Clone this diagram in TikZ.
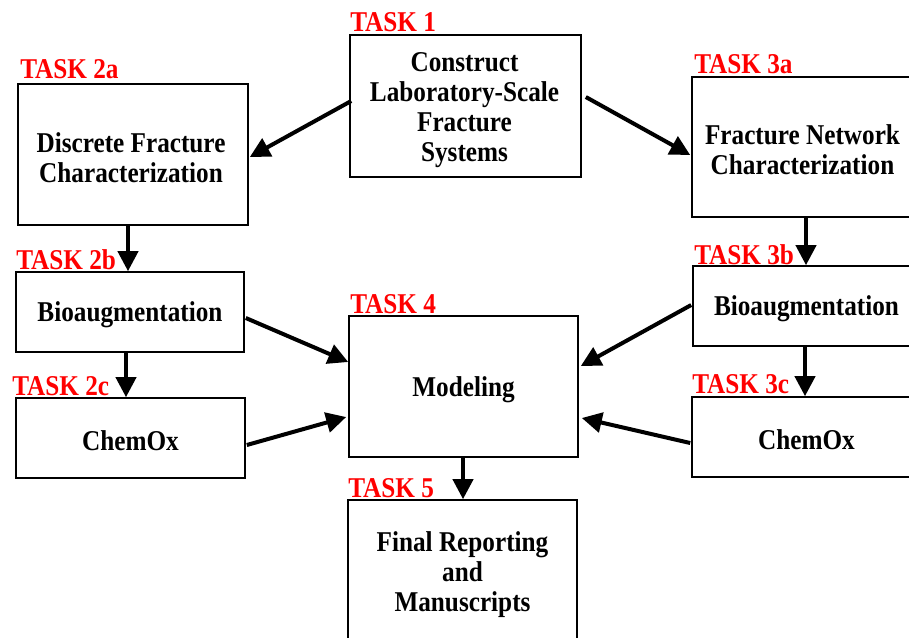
\documentclass[tikz,border=0pt]{standalone}
\usepackage{fontspec}
\setmainfont{Liberation Serif}[FakeStretch=0.88]
\usetikzlibrary{arrows.meta,calc}
\begin{document}
\begin{tikzpicture}[x=0.75pt,y=-0.75pt,
  box/.style={draw,line width=1.2pt,inner sep=0pt},
  boxtext/.style={inner sep=0pt,align=center,font=\fontsize{21.5pt}{22.5pt}\selectfont\bfseries},
  tasklabel/.style={anchor=base west,inner sep=0pt,text=red,font=\fontsize{21.5pt}{22pt}\selectfont\bfseries},
  conn/.style={line width=3pt,-{Triangle[length=15pt,width=15pt]},shorten >=0pt}]
\useasboundingbox (0,0) rectangle (909,637);
\clip (0,0) rectangle (909,637);
% boxes
\node[box,minimum width=173.25pt,minimum height=106.5pt] (t1) at (465.5,106) {};
\node[box,minimum width=172.5pt,minimum height=105.75pt] (t2a) at (133,154.5) {};
\node[box,minimum width=171pt,minimum height=60pt] (t2b) at (130,312) {};
\node[box,minimum width=171.75pt,minimum height=60pt] (t2c) at (130.5,438) {};
\node[box,minimum width=171.75pt,minimum height=105.75pt] (t4) at (463.5,386.5) {};
\node[box,minimum width=171.75pt,minimum height=105.75pt] (t5) at (462.5,570.5) {};
\node[box,minimum width=171.75pt,minimum height=105pt] (t3a) at (806.5,147) {};
\node[box,minimum width=171.75pt,minimum height=60pt] (t3b) at (807.5,306) {};
\node[box,minimum width=171.75pt,minimum height=60pt] (t3c) at (806.5,437) {};
% box texts
\node[boxtext] (x1) at ($(t1)+(-1,4)$) {Construct\\Laboratory-Scale\\Fracture\\Systems};
\node[boxtext] (x2a) at ($(t2a)+(-2,3)$) {Discrete Fracture\\Characterization};
\node[boxtext] (x2b) at ($(t2b)+(0,3)$) {Bioaugmentation};
\node[boxtext] (x2c) at ($(t2c)+(0,3)$) {ChemOx};
\node[boxtext] (x4) at ($(t4)+(0,3)$) {Modeling};
\node[boxtext] (x5) at ($(t5)+(0,4)$) {Final Reporting\\and\\Manuscripts};
\node[boxtext] (x3a) at ($(t3a)+(-4,3)$) {Fracture Network\\Characterization};
\node[boxtext] (x3b) at ($(t3b)+(-1,3)$) {Bioaugmentation};
\node[boxtext] (x3c) at ($(t3c)+(0,3)$) {ChemOx};
% labels
\node[tasklabel] (l1) at (350,31) {TASK 1};
\node[tasklabel] (l2a) at (20,78) {TASK 2a};
\node[tasklabel] (l2b) at (16,269) {TASK 2b};
\node[tasklabel] (l2c) at (12,395) {TASK 2c};
\node[tasklabel] (l4) at (350,313) {TASK 4};
\node[tasklabel] (l5) at (348,497) {TASK 5};
\node[tasklabel] (l3a) at (694,73) {TASK 3a};
\node[tasklabel] (l3b) at (694,264) {TASK 3b};
\node[tasklabel] (l3c) at (692,393) {TASK 3c};
% connectors
\draw[conn] ($(t1.west)+(2,-5)$) -- ($(t2a.east)+(1,2.5)$);
\draw[conn] ($(t1.east)+(4,-9)$) -- ($(t3a.west)+(-1,8)$);
\coordinate (a1) at ($(t2a.south)+(-5,0)$);
\draw[conn] (a1) -- (a1 |- t2b.north);
\coordinate (a2) at ($(t3a.south)+(-0.5,0)$);
\draw[conn] (a2) -- (a2 |- t3b.north);
\coordinate (a3) at ($(t2b.south)+(-4,0)$);
\draw[conn] (a3) -- (a3 |- t2c.north);
\coordinate (a4) at ($(t3b.south)+(-2.5,0)$);
\draw[conn] (a4) -- (a4 |- t3c.north);
\coordinate (a5) at ($(t4.south)+(-0.5,0)$);
\draw[conn] (a5) -- (a5 |- t5.north);
\draw[conn] ($(t2b.east)+(1,6)$) -- ($(t4.west)+(0,-24.5)$);
\draw[conn] ($(t2c.east)+(1,7)$) -- ($(t4.west)+(-2,30.5)$);
\draw[conn] ($(t3b.west)+(-1,-1)$) -- ($(t4.east)+(2,-20.5)$);
\draw[conn] ($(t3c.west)+(-1,6)$) -- ($(t4.east)+(3,31.5)$);
\end{tikzpicture}
\end{document}
